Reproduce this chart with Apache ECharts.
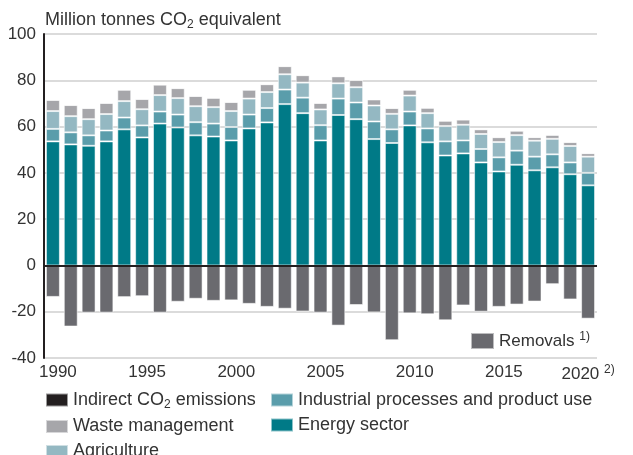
<!DOCTYPE html>
<html>
<head>
<meta charset="utf-8">
<script src="https://cdn.jsdelivr.net/npm/echarts@6/dist/echarts.min.js"></script>
<style>
  html, body { margin: 0; padding: 0; background: #fff; }
  #chart { width: 633px; height: 455px; }
</style>
</head>
<body>
<div id="chart"></div>
<script>
// years on the x axis
var years = [];
for (var y = 1990; y <= 2020; y++) years.push(String(y));

// values in million tonnes CO2 eq
var energy = [53.6, 52.3, 51.7, 53.6, 58.8, 55.3, 61.3, 59.6, 56.2, 55.7, 54.0, 59.2, 61.8, 69.7, 65.8, 54.0,
              65.0, 63.2, 54.6, 52.9, 60.5, 53.2, 47.5, 48.4, 44.5, 40.6, 43.5, 41.1, 42.4, 39.4, 34.6];
var industrial = [5.4, 5.2, 4.5, 4.7, 5.1, 5.2, 5.2, 5.6, 5.7, 5.6, 5.8, 6.0, 6.2, 6.3, 6.7, 6.6,
                  7.1, 7.2, 7.6, 5.9, 6.0, 6.0, 6.1, 5.6, 5.8, 6.1, 6.1, 5.9, 5.6, 5.1, 5.4];
var agriculture = [7.7, 7.0, 7.0, 7.1, 7.1, 7.0, 7.1, 7.1, 6.9, 7.1, 6.9, 6.9, 6.9, 6.6, 6.5, 6.8,
                   6.6, 6.6, 6.9, 6.7, 6.9, 6.6, 6.6, 6.8, 6.5, 6.6, 6.7, 6.9, 6.7, 7.1, 7.0];
var waste = [4.8, 4.8, 4.8, 4.8, 4.9, 4.4, 4.5, 4.3, 4.4, 4.0, 3.9, 3.8, 3.4, 3.5, 3.2, 2.8,
             3.0, 3.1, 2.6, 2.5, 2.5, 2.3, 2.3, 2.2, 2.0, 2.1, 1.9, 1.5, 1.7, 1.7, 1.5];
var indirect = [0.1, 0.1, 0.1, 0.1, 0.1, 0.1, 0.1, 0.1, 0.1, 0.1, 0.1, 0.1, 0.1, 0.1, 0.1, 0.1,
                0.1, 0.1, 0.1, 0.1, 0.1, 0.1, 0.1, 0.1, 0.1, 0.1, 0.1, 0.1, 0.1, 0.1, 0.1];
var removals = [-13.6, -26.4, -20.4, -20.4, -13.7, -13.3, -20.4, -15.7, -14.4, -15.3, -15.1, -16.6, -17.9, -18.7, -19.9, -20.4,
                -26.0, -17.1, -20.3, -32.3, -20.7, -21.1, -23.7, -17.3, -20.0, -17.9, -16.9, -15.6, -8.1, -14.7, -23.0];

var textColor = '#333';
var fontFamily = 'Liberation Sans, Arial, sans-serif';

var myChart = echarts.init(document.getElementById('chart'));

function barSeries(name, data, color) {
    return {
        name: name,
        type: 'bar',
        stack: 'total',
        barCategoryGap: '22%',
        itemStyle: {
            color: color,
            borderColor: 'rgba(255,255,255,0.55)',
            borderWidth: 1
        },
        data: data
    };
}

var series = [
    barSeries('Energy sector', energy, '#007a87'),
    barSeries('Industrial processes and product use', industrial, '#5a9dab'),
    barSeries('Agriculture', agriculture, '#94b8c2'),
    barSeries('Waste management', waste, '#a6a6aa'),
    barSeries('Indirect CO2 emissions', indirect, '#231f20'),
    barSeries('Removals', removals, '#6a6a6f')
];
// dark zero line
series[0].markLine = {
    silent: true,
    symbol: 'none',
    label: { show: false },
    lineStyle: { color: '#231f20', width: 2, type: 'solid' },
    data: [{ yAxis: 0 }]
};

var subStyle = { fontSize: 12, fontFamily: fontFamily, color: textColor, padding: [9, 0, 0, 0] };

var legendText = {
    color: textColor,
    fontSize: 18,
    fontFamily: fontFamily,
    lineHeight: 18,
    rich: { sub: subStyle }
};

var legendBase = {
    orient: 'vertical',
    top: 391,
    height: 90,
    padding: 0,
    itemWidth: 22,
    itemHeight: 13,
    itemGap: 7,
    icon: 'rect',
    textStyle: legendText,
    selectedMode: false
};

var option = {
    animation: false,
    textStyle: { fontFamily: fontFamily },
    title: {
        text: 'Million tonnes CO{sub|2} equivalent',
        left: 40,
        top: 5,
        textStyle: {
            color: textColor,
            fontSize: 18,
            fontWeight: 'normal',
            fontFamily: fontFamily,
            rich: { sub: subStyle }
        }
    },
    grid: { left: 44, right: 36, top: 34, bottom: 97 },
    legend: [
        Object.assign({}, legendBase, {
            left: 45,
            data: ['Indirect CO2 emissions', 'Waste management', 'Agriculture'],
            formatter: function (n) {
                return n === 'Indirect CO2 emissions' ? 'Indirect CO{sub|2} emissions' : n;
            }
        }),
        Object.assign({}, legendBase, {
            left: 270,
            data: ['Industrial processes and product use', 'Energy sector']
        }),
        {
            left: 470,
            top: 331,
            padding: 0,
            itemWidth: 23,
            itemHeight: 16,
            icon: 'rect',
            data: ['Removals'],
            formatter: '{a|Removals} {sup|1)}',
            textStyle: {
                color: textColor,
                fontSize: 17,
                fontFamily: fontFamily,
                rich: {
                    a: { fontSize: 17, fontFamily: fontFamily, color: textColor },
                    sup: { fontSize: 12, fontFamily: fontFamily, color: textColor, padding: [0, 0, 8, 0] }
                }
            },
            selectedMode: false
        }
    ],
    xAxis: {
        type: 'category',
        data: years,
        axisLine: { show: false },
        axisTick: { show: false },
        axisLabel: {
            interval: 4,
            color: textColor,
            fontSize: 17,
            fontFamily: fontFamily,
            margin: 6,
            formatter: function (v) {
                return v === '2020' ? v + ' {sup|2)}' : '{n|' + v + '}';
            },
            rich: {
                n: { fontSize: 17, fontFamily: fontFamily, color: textColor, padding: [0, 0, 0, 10] },
                sup: { fontSize: 12, fontFamily: fontFamily, color: textColor, padding: [0, 0, 8, 0] }
            }
        }
    },
    yAxis: {
        type: 'value',
        min: -40,
        max: 100,
        interval: 20,
        axisLine: { show: true, lineStyle: { color: '#231f20', width: 2 } },
        axisTick: { show: false },
        axisLabel: { color: textColor, fontSize: 17, fontFamily: fontFamily, margin: 8 },
        splitLine: { lineStyle: { color: '#cfcfcf', width: 1.5 } }
    },
    series: series
};

myChart.setOption(option);
</script>
</body>
</html>
